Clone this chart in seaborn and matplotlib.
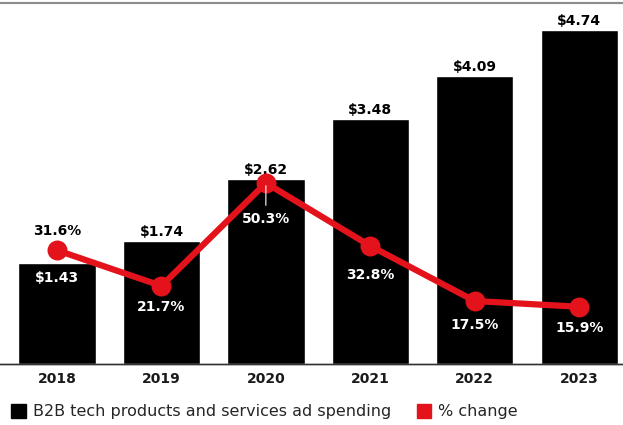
import matplotlib.pyplot as plt
import matplotlib.patches as mpatches
import seaborn as sns
import pandas as pd

years = ["2018", "2019", "2020", "2021", "2022", "2023"]
spending = [1.43, 1.74, 2.62, 3.48, 4.09, 4.74]
pct_change = [31.6, 21.7, 50.3, 32.8, 17.5, 15.9]
spend_labels = ["$1.43", "$1.74", "$2.62", "$3.48", "$4.09", "$4.74"]
pct_labels = ["31.6%", "21.7%", "50.3%", "32.8%", "17.5%", "15.9%"]

df = pd.DataFrame({"year": years, "spending": spending, "pct": pct_change})

sns.set_theme(style="white")
plt.rcParams['font.family'] = ['DejaVu Sans']

RED = "#E3121B"

fig = plt.figure(figsize=(6.23, 4.25), dpi=100)
ax = fig.add_axes([0.0, 61 / 425, 1.0, 361 / 425])

sns.barplot(data=df, x="year", y="spending", color="black", width=0.74,
            saturation=1, ax=ax)
ax.set_ylim(0, 5.12)

# bar value labels
for i, (v, lab) in enumerate(zip(spending, spend_labels)):
    if i == 0:
        ax.annotate(lab, (i, v), xytext=(0, -11), textcoords="offset points",
                    ha="center", va="center", color="white",
                    fontsize=10, fontweight="bold")
    else:
        ax.annotate(lab, (i, v), xytext=(0, 1.5), textcoords="offset points",
                    ha="center", va="bottom", color="black",
                    fontsize=10, fontweight="bold")

ax2 = ax.twinx()
sns.pointplot(data=df, x="year", y="pct", color=RED, markers="o",
              linewidth=4.5, markersize=11, ax=ax2)
ax2.set_ylim(0, 100.3)

# percent labels (offsets in points)
offsets = [(0, 14), (0, -15), (0, -26), (0, -21), (0, -17), (0, -15)]
for i, (v, lab) in enumerate(zip(pct_change, pct_labels)):
    col = "black" if i == 0 else "white"
    ax2.annotate(lab, (i, v), xytext=offsets[i], textcoords="offset points",
                 ha="center", va="center", color=col,
                 fontsize=10, fontweight="bold")

# small leader line at 2020
ax2.annotate("", xy=(2, pct_change[2]), xytext=(2, pct_change[2] - 7),
             arrowprops=dict(arrowstyle="-", color="white", lw=0.8))

for a in (ax, ax2):
    a.set_xlabel("")
    a.set_ylabel("")
    a.set_yticks([])
    for s in ("left", "right"):
        a.spines[s].set_visible(False)
    a.spines["top"].set_color("#8c8c8c")
    a.spines["top"].set_linewidth(1.5)
    a.spines["bottom"].set_color("#333333")
    a.spines["bottom"].set_linewidth(1.0)

ax.set_xlim(-0.546, 5.42)
ax.set_xticks(range(len(years)))
ax.set_xticklabels(years, fontsize=10, fontweight="bold", color="#1a1a1a")
ax.tick_params(axis="x", length=0, pad=6, labelbottom=True)
ax2.tick_params(axis="x", length=0, labelbottom=False)

handles = [mpatches.Patch(color="black", label="B2B tech products and services ad spending"),
           mpatches.Patch(color=RED, label="% change")]
fig.legend(handles=handles, loc="lower left", bbox_to_anchor=(-0.005, -0.02),
           ncol=2, frameon=False, handlelength=0.9, handleheight=1.0,
           handletextpad=0.45, columnspacing=1.6,
           prop={"family": "DejaVu Sans", "size": 11.5, "weight": "normal"})

fig.savefig("out.png", dpi=100)
